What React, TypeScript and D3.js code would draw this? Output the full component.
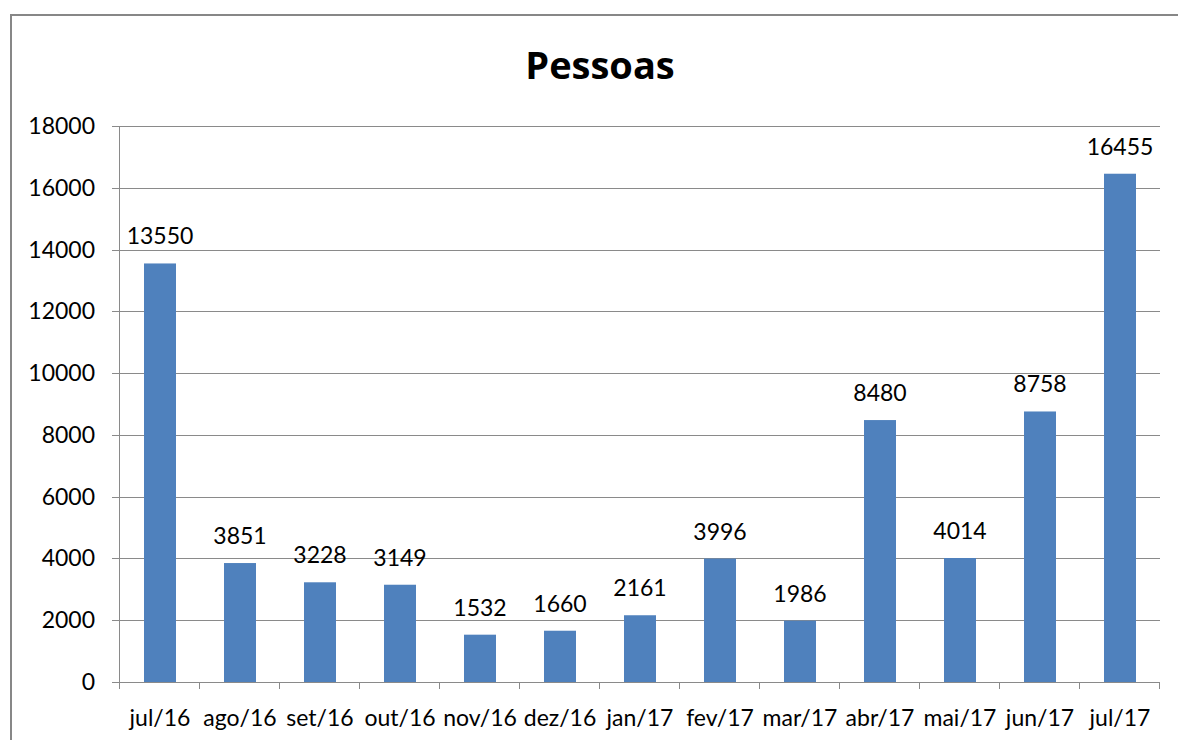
import React from 'react';
import * as d3 from 'd3';

const months = ['jul/16', 'ago/16', 'set/16', 'out/16', 'nov/16', 'dez/16', 'jan/17', 'fev/17', 'mar/17', 'abr/17', 'mai/17', 'jun/17', 'jul/17'];
const pessoas = [13550, 3851, 3228, 3149, 1532, 1660, 2161, 3996, 1986, 8480, 4014, 8758, 16455];
const yTicks = [0, 2000, 4000, 6000, 8000, 10000, 12000, 14000, 16000, 18000];

const width = 1178;
const height = 740;
const margin = { top: 126, right: 18, bottom: 58, left: 120 };
const font = 'Lato, Carlito, Calibri, sans-serif';

export default function App() {
  const ref = React.useRef<SVGSVGElement>(null);

  React.useEffect(() => {
    const svg = d3.select(ref.current);
    svg.selectAll('*').remove();

    const x = d3
      .scaleBand()
      .domain(months)
      .range([margin.left, width - margin.right])
      .paddingInner(0.6)
      .paddingOuter(0.3);

    const y = d3
      .scaleLinear()
      .domain([0, 18000])
      .range([height - margin.bottom, margin.top]);

    // frame
    svg
      .append('rect')
      .attr('x', 11)
      .attr('y', 15)
      .attr('width', 1200)
      .attr('height', 800)
      .attr('fill', 'white')
      .attr('stroke', '#878787')
      .attr('stroke-width', 2);

    svg
      .append('text')
      .attr('x', 600)
      .attr('y', 79)
      .attr('text-anchor', 'middle')
      .attr('font-family', '"Open Sans", sans-serif')
      .attr('font-weight', 'bold')
      .attr('font-size', 38)
      .attr('fill', '#000')
      .text('Pessoas');

    // gridlines
    svg
      .append('g')
      .selectAll('line')
      .data(yTicks)
      .join('line')
      .attr('x1', margin.left - 8)
      .attr('x2', width - margin.right)
      .attr('y1', (d) => Math.round(y(d)) + 0.5)
      .attr('y2', (d) => Math.round(y(d)) + 0.5)
      .attr('stroke', '#8a8a8a')
      .attr('stroke-width', 1);

    svg
      .append('g')
      .selectAll('text')
      .data(yTicks)
      .join('text')
      .attr('x', 95)
      .attr('y', (d) => y(d) + 8)
      .attr('text-anchor', 'end')
      .attr('font-family', font)
      .attr('font-size', 23)
      .attr('fill', '#000')
      .text((d) => d);

    // y axis line
    svg
      .append('line')
      .attr('x1', margin.left - 0.5)
      .attr('x2', margin.left - 0.5)
      .attr('y1', y(18000))
      .attr('y2', y(0))
      .attr('stroke', '#8a8a8a');

    // x ticks
    const edges = months.map((m) => (x(m) as number) - (x.step() - x.bandwidth()) / 2);
    edges.push(width - margin.right);
    svg
      .append('g')
      .selectAll('line')
      .data(edges)
      .join('line')
      .attr('x1', (d) => Math.round(d) - 0.5)
      .attr('x2', (d) => Math.round(d) - 0.5)
      .attr('y1', y(0))
      .attr('y2', y(0) + 7)
      .attr('stroke', '#8a8a8a');

    svg
      .append('g')
      .selectAll('text')
      .data(months)
      .join('text')
      .attr('x', (d) => (x(d) as number) + x.bandwidth() / 2)
      .attr('y', height - 14)
      .attr('text-anchor', 'middle')
      .attr('font-family', font)
      .attr('font-size', 23)
      .attr('fill', '#000')
      .text((d) => d);

    // bars
    svg
      .append('g')
      .attr('fill', '#4f81bd')
      .selectAll('rect')
      .data(pessoas)
      .join('rect')
      .attr('x', (_, i) => x(months[i]) as number)
      .attr('width', x.bandwidth())
      .attr('y', (d) => y(d))
      .attr('height', (d) => y(0) - y(d));

    svg
      .append('g')
      .selectAll('text')
      .data(pessoas)
      .join('text')
      .attr('x', (_, i) => (x(months[i]) as number) + x.bandwidth() / 2)
      .attr('y', (d) => y(d) - 19)
      .attr('text-anchor', 'middle')
      .attr('font-family', font)
      .attr('font-size', 23)
      .attr('fill', '#000')
      .text((d) => d);
  }, []);

  return (
    <svg
      ref={ref}
      width={width}
      height={height}
      style={{ position: 'absolute', left: 0, top: 0, background: 'white' }}
    />
  );
}
